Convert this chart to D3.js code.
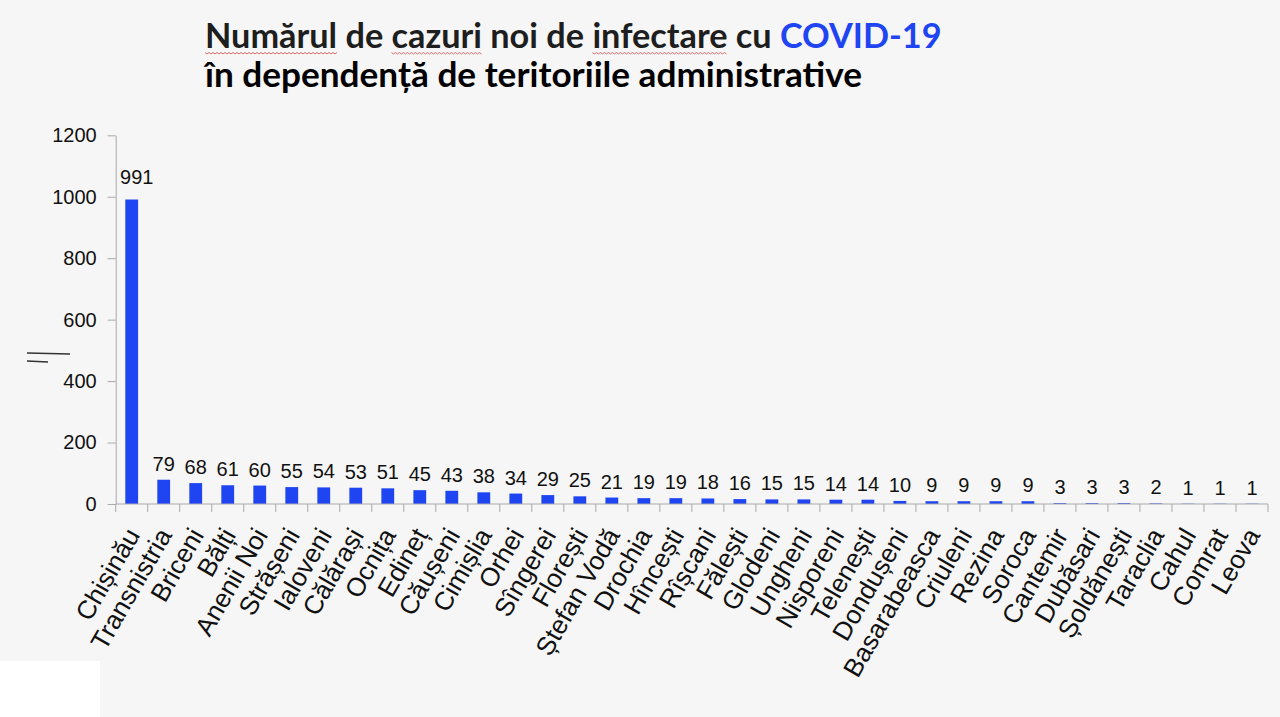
<!DOCTYPE html>
<html><head><meta charset="utf-8">
<script src="https://cdn.jsdelivr.net/npm/d3@7"></script>
<style>html,body{margin:0;padding:0;background:#f6f6f6;} svg{display:block}</style>
</head><body>
<svg id="c" width="1280" height="717"></svg>
<script>
const categories = ["Chișinău","Transnistria","Briceni","Bălți","Anenii Noi","Strășeni","Ialoveni","Călărași","Ocnița","Edineț","Căușeni","Cimișlia","Orhei","Sîngerei","Florești","Ștefan Vodă","Drochia","Hîncești","Rîșcani","Fălești","Glodeni","Ungheni","Nisporeni","Telenești","Dondușeni","Basarabeasca","Criuleni","Rezina","Soroca","Cantemir","Dubăsari","Șoldănești","Taraclia","Cahul","Comrat","Leova"];
const values = [991,79,68,61,60,55,54,53,51,45,43,38,34,29,25,21,19,19,18,16,15,15,14,14,10,9,9,9,9,3,3,3,2,1,1,1];
const yTicks = [0,200,400,600,800,1000,1200];
const titleLine1 = "Numărul de cazuri noi de infectare cu ";
const titleHighlight = "COVID-19";
const titleLine2 = "în dependență de teritoriile administrative";
const flaggedWords = ["Numărul","cazuri","infectare"];

const svg = d3.select("#c");
svg.append("rect").attr("width",1280).attr("height",717).attr("fill","#f6f6f6");
svg.append("rect").attr("x",0).attr("y",661).attr("width",100).attr("height",56).attr("fill","#ffffff");

const x0 = 115.7, x1 = 1268, yTop = 135.3, yBot = 504;
const x = d3.scaleBand().domain(categories).range([x0,x1]).paddingInner(0.6).paddingOuter(0.3);
const y = d3.scaleLinear().domain([0,1200]).range([yBot,yTop]);
const axisColor = "#a9a9a9";
const font = "'Liberation Sans', Arial, sans-serif";

// y axis
const yAxis = svg.append("g").attr("transform",`translate(${x0},0)`)
  .call(d3.axisLeft(y).tickValues(yTicks).tickFormat(d3.format("d")).tickSize(8).tickPadding(11).tickSizeOuter(0));
yAxis.select(".domain").attr("stroke",axisColor);
yAxis.selectAll(".tick line").attr("stroke",axisColor);
yAxis.selectAll(".tick text").attr("font-family",font).attr("font-size",20).attr("fill","#111");

// bars
svg.append("g").selectAll("rect").data(values).join("rect")
  .attr("x",(d,i)=>x(categories[i]))
  .attr("width",x.bandwidth())
  .attr("y",d=>y(d))
  .attr("height",d=>yBot-y(d))
  .attr("fill","#1f45f2");

// x axis line and boundary ticks
svg.append("line").attr("x1",x0).attr("x2",x1).attr("y1",yBot).attr("y2",yBot).attr("stroke",axisColor);
const step = x.step();
const bounds = categories.map(c=>x(c)+x.bandwidth()/2-step/2).concat([x1]);
svg.append("g").selectAll("line").data(bounds).join("line")
  .attr("x1",d=>d).attr("x2",d=>d).attr("y1",yBot).attr("y2",yBot+8).attr("stroke",axisColor);

// value labels
svg.append("g").selectAll("text").data(values).join("text")
  .attr("x",(d,i)=>x(categories[i])+x.bandwidth()/2 + (d>500?5:0))
  .attr("y",d=>y(d)-(d>500?16:9))
  .attr("text-anchor","middle").attr("font-family",font).attr("font-size",20).attr("fill","#111")
  .text(d=>d);

// category labels
svg.append("g").selectAll("text").data(categories).join("text")
  .attr("transform",d=>`translate(${x(d)+x.bandwidth()/2+9},${yBot+31}) rotate(-60)`)
  .attr("text-anchor","end").attr("font-family",font).attr("font-size",26).attr("fill","#111")
  .text(d=>d);

// left mark
svg.append("line").attr("x1",27).attr("x2",70).attr("y1",353).attr("y2",354).attr("stroke","#333").attr("stroke-width",1.6);
svg.append("line").attr("x1",27).attr("x2",48).attr("y1",361).attr("y2",362).attr("stroke","#333").attr("stroke-width",1.6);

// title
const tFont = "Lato, 'Open Sans', sans-serif";
const t1 = svg.append("text").attr("x",205).attr("y",48).attr("font-family",tFont).attr("font-weight",700).attr("font-size",32).attr("fill","#1e1e1e");
t1.append("tspan").text(titleLine1);
t1.append("tspan").attr("fill","#1f45f2").text(titleHighlight);
const t2 = svg.append("text").attr("x",205).attr("y",87).attr("font-family",tFont).attr("font-weight",700).attr("font-size",32).attr("fill","#000").text(titleLine2);
const w1 = t1.node().getComputedTextLength();
const fs = 32*737/w1;
t1.attr("font-size",fs); t2.attr("font-size",fs);
t2.attr("textLength",657).attr("lengthAdjust","spacingAndGlyphs");
// spell-check squiggles
const full = titleLine1+titleHighlight;
flaggedWords.forEach(w=>{
  const i = full.indexOf(w);
  const xs = t1.node().getStartPositionOfChar(i).x;
  const xe = t1.node().getEndPositionOfChar(i+w.length-1).x;
  const pts = d3.range(xs, xe, 2).map((px,k)=>[px, 53 + (k%2?1:-0.5)]);
  svg.append("path").attr("d",d3.line()(pts)).attr("fill","none").attr("stroke","#e05858").attr("stroke-width",0.9);
});
</script>
</body></html>
